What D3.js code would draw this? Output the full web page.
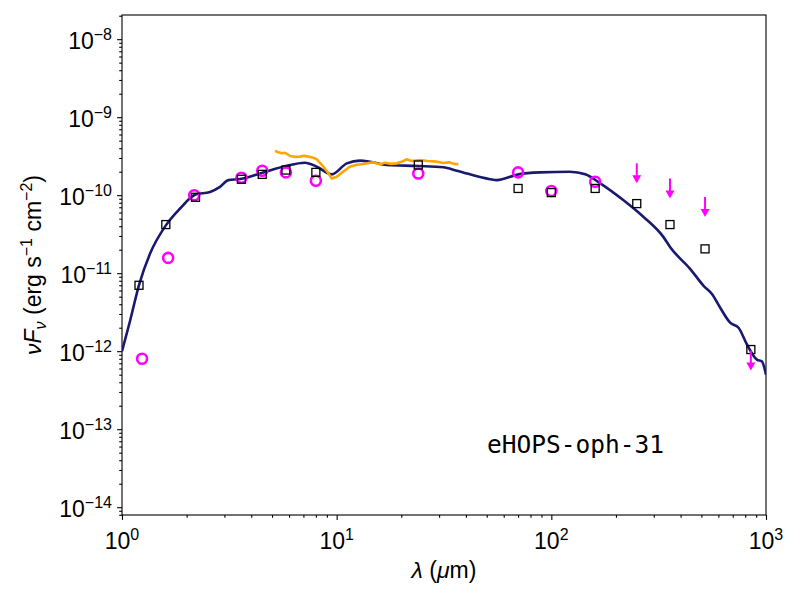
<!DOCTYPE html>
<html>
<head>
<meta charset="utf-8">
<script src="https://cdn.jsdelivr.net/npm/d3@7"></script>
<style>
  body { margin: 0; background: #fff; }
  svg { font-family: "Liberation Sans", Arial, sans-serif; }
</style>
</head>
<body>
<div id="chart"></div>
<script>
// SED data (wavelength in micron, nuFnu in erg s^-1 cm^-2)
const modelWave = [1.0, 1.09, 1.20, 1.35, 1.60, 1.86, 2.20, 2.57, 2.86, 3.13, 3.55, 4.51, 5.79, 7.12, 8.08, 9.49,
  11.15, 12.85, 14.3, 17.1, 24.0, 31.4, 36.3, 51.9, 55.7, 70.3, 88.7, 122, 144, 169, 217, 269, 333, 358, 444,
  512, 560, 612, 681, 745, 815, 907, 957, 1000];
const modelFlux = [1.0e-12, 2.44e-12, 7.05e-12, 1.77e-11, 4.1e-11, 6.7e-11, 1.02e-10, 1.10e-10, 1.28e-10, 1.56e-10,
  1.61e-10, 1.94e-10, 2.37e-10, 2.61e-10, 2.32e-10, 1.85e-10, 2.56e-10, 2.77e-10, 2.69e-10, 2.44e-10, 2.37e-10,
  2.28e-10, 2.06e-10, 1.60e-10, 1.56e-10, 1.85e-10, 1.96e-10, 2.0e-10, 1.85e-10, 1.42e-10, 8.6e-11, 5.25e-11,
  2.9e-11, 2.15e-11, 1.13e-11, 6.9e-12, 5.4e-12, 3.6e-12, 2.32e-12, 2.0e-12, 1.22e-12, 7.8e-13, 7.4e-13, 5.0e-13];

// IRS spectrum
const specWave = [5.16, 5.35, 5.55, 5.75, 6.07, 6.4, 6.75, 7.05, 7.38, 7.7, 8.08, 8.67, 9.1, 9.49, 10.0, 10.7,
  11.5, 12.4, 13.3, 14.1, 14.8, 15.4, 15.9, 16.8, 17.9, 19.1, 20.2, 21.2, 22.3, 24.5, 26.5, 29.3, 31.5, 33.5,
  35.2, 36.9];
const specFlux = [3.70e-10, 3.55e-10, 3.45e-10, 3.50e-10, 3.18e-10, 3.10e-10, 3.12e-10, 3.20e-10, 3.12e-10,
  3.05e-10, 2.89e-10, 2.32e-10, 1.95e-10, 1.64e-10, 1.72e-10, 2.0e-10, 2.32e-10, 2.45e-10, 2.51e-10, 2.58e-10,
  2.64e-10, 2.55e-10, 2.49e-10, 2.60e-10, 2.52e-10, 2.56e-10, 2.70e-10, 2.89e-10, 2.75e-10, 2.83e-10, 2.74e-10,
  2.69e-10, 2.58e-10, 2.65e-10, 2.52e-10, 2.49e-10];

// squares
const sqWave = [1.2, 1.6, 2.2, 3.6, 4.5, 5.8, 8.0, 24, 70, 100, 160, 250, 357, 520, 850];
const sqFlux = [7.0e-12, 4.2e-11, 9.4e-11, 1.6e-10, 1.85e-10, 2.1e-10, 1.96e-10, 2.44e-10, 1.22e-10, 1.08e-10,
  1.22e-10, 7.8e-11, 4.2e-11, 2.05e-11, 1.05e-12];

// observed photometry (circles)
const obsWave = [1.24, 1.64, 2.17, 3.6, 4.5, 5.8, 8.0, 24, 70, 100, 160];
const obsFlux = [8.0e-13, 1.57e-11, 1.0e-10, 1.67e-10, 2.06e-10, 1.96e-10, 1.53e-10, 1.9e-10, 1.96e-10,
  1.13e-10, 1.49e-10];

// upper limits (arrows)
const limWave = [250, 357, 520, 850];
const limFlux = [2.56e-10, 1.64e-10, 9.5e-11, 1.02e-12];

const xTicks = [0, 1, 2, 3];
const yTicks = [-14, -13, -12, -11, -10, -9, -8];
const sourceName = "eHOPS-oph-31";

const width = 800, height = 600;
const margin = { top: 15, right: 34, bottom: 85, left: 122 };
const w = width - margin.left - margin.right;
const h = height - margin.top - margin.bottom;

const svg = d3.select("#chart").append("svg")
  .attr("width", width)
  .attr("height", height);

const g = svg.append("g")
  .attr("transform", `translate(${margin.left},${margin.top})`);

const x = d3.scaleLog().domain([1, 1000]).range([0, w]);
const y = d3.scaleLog().domain([Math.pow(10, -14.1), Math.pow(10, -7.69)]).range([h, 0]);

g.append("clipPath").attr("id", "clip")
  .append("rect").attr("width", w).attr("height", h);

// minor ticks
const minorX = [];
for (let d = 0; d < 3; d++) for (let k = 2; k < 10; k++) minorX.push(k * Math.pow(10, d));
const minorY = [];
for (let d = -15; d < -7; d++) for (let k = 2; k < 10; k++) {
  const v = k * Math.pow(10, d);
  if (v > y.domain()[0] && v < y.domain()[1]) minorY.push(v);
}

const axisStyle = sel => {
  sel.select(".domain").remove();
  sel.selectAll("line").attr("stroke", "#000").attr("stroke-width", 1.1);
};

g.append("g").attr("transform", `translate(0,${h})`)
  .call(d3.axisBottom(x).tickValues(minorX).tickSize(2.8).tickFormat(""))
  .call(axisStyle);
g.append("g").attr("transform", `translate(0,${h})`)
  .call(d3.axisBottom(x).tickValues(xTicks.map(e => Math.pow(10, e))).tickSize(4.9).tickFormat(""))
  .call(axisStyle);
g.append("g")
  .call(d3.axisLeft(y).tickValues(minorY).tickSize(2.8).tickFormat(""))
  .call(axisStyle);
g.append("g")
  .call(d3.axisLeft(y).tickValues(yTicks.map(e => Math.pow(10, e))).tickSize(4.9).tickFormat(""))
  .call(axisStyle);

// tick labels 10^n
const powLabel = (sel, e) => {
  sel.append("tspan").text("10");
  sel.append("tspan").attr("dy", -9.5).style("font-size", "16px")
    .text(e < 0 ? "\u2212" + (-e) : String(e));
};

xTicks.forEach(e => {
  g.append("text")
    .attr("x", x(Math.pow(10, e)))
    .attr("y", h + 34)
    .attr("text-anchor", "middle")
    .style("font-size", "23px")
    .call(powLabel, e);
});
yTicks.forEach(e => {
  g.append("text")
    .attr("x", -10)
    .attr("y", y(Math.pow(10, e)) + 10)
    .attr("text-anchor", "end")
    .style("font-size", "23px")
    .call(powLabel, e);
});

// frame
g.append("rect")
  .attr("width", w).attr("height", h)
  .attr("fill", "none").attr("stroke", "#000").attr("stroke-width", 1.1);

const plot = g.append("g").attr("clip-path", "url(#clip)");

// model
const line = d3.line().x(d => x(d[0])).y(d => y(d[1]));
plot.append("path")
  .datum(modelWave.map((v, i) => [v, modelFlux[i]]))
  .attr("d", line.curve(d3.curveMonotoneX))
  .attr("fill", "none")
  .attr("stroke", "#191970")
  .attr("stroke-width", 2.6)
  .attr("stroke-linejoin", "round");

// spectrum
plot.append("path")
  .datum(specWave.map((v, i) => [v, specFlux[i]]))
  .attr("d", line.curve(d3.curveLinear))
  .attr("fill", "none")
  .attr("stroke", "#ffa500")
  .attr("stroke-width", 2.6)
  .attr("stroke-linejoin", "round");

// circles
plot.selectAll("circle.obs")
  .data(obsWave.map((v, i) => [v, obsFlux[i]]))
  .join("circle")
  .attr("class", "obs")
  .attr("cx", d => x(d[0]))
  .attr("cy", d => y(d[1]))
  .attr("r", 5)
  .attr("fill", "none")
  .attr("stroke", "#ff00ff")
  .attr("stroke-width", 2.6);

// squares
plot.selectAll("rect.sq")
  .data(sqWave.map((v, i) => [v, sqFlux[i]]))
  .join("rect")
  .attr("class", "sq")
  .attr("x", d => x(d[0]) - 4)
  .attr("y", d => y(d[1]) - 4)
  .attr("width", 8)
  .attr("height", 8)
  .attr("fill", "none")
  .attr("stroke", "#000")
  .attr("stroke-width", 1.3);

// upper limit arrows
limWave.forEach((v, i) => {
  const ax = x(v), ay = y(limFlux[i]);
  plot.append("line")
    .attr("x1", ax).attr("x2", ax)
    .attr("y1", ay).attr("y2", ay + 14)
    .attr("stroke", "#ff00ff").attr("stroke-width", 2);
  plot.append("path")
    .attr("d", `M${ax - 4.5},${ay + 12}L${ax + 4.5},${ay + 12}L${ax},${ay + 20}Z`)
    .attr("fill", "#ff00ff");
});

// source name
g.append("text")
  .attr("x", 365)
  .attr("y", 438)
  .style("font-family", "'DejaVu Sans Mono', monospace")
  .style("font-size", "24.5px")
  .text(sourceName);

// axis labels
svg.append("text")
  .attr("x", margin.left + w / 2)
  .attr("y", 578)
  .attr("text-anchor", "middle")
  .style("font-size", "23px")
  .html('<tspan font-style="italic">λ</tspan> (<tspan font-style="italic">μ</tspan>m)');

svg.append("text")
  .attr("transform", `translate(41,${margin.top + h / 2}) rotate(-90)`)
  .attr("text-anchor", "middle")
  .style("font-size", "23px")
  .html('<tspan font-style="italic">νF</tspan><tspan font-style="italic" dy="5" font-size="16px">ν</tspan>' +
        '<tspan dy="-5"> (erg s</tspan><tspan dy="-9.5" font-size="16px">\u22121</tspan>' +
        '<tspan dy="9.5"> cm</tspan><tspan dy="-9.5" font-size="16px">\u22122</tspan><tspan dy="9.5">)</tspan>');
</script>
</body>
</html>
